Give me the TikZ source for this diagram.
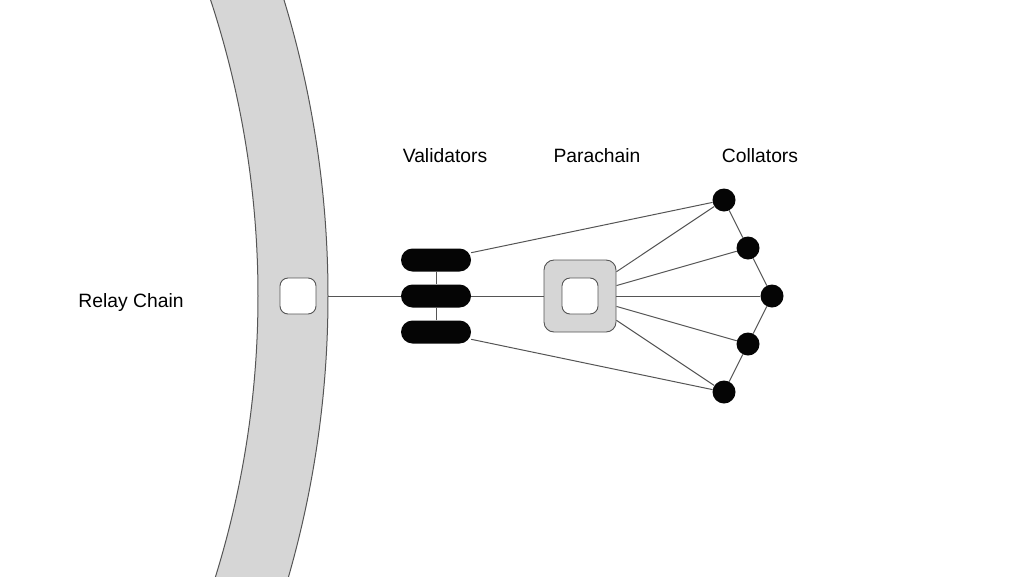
\documentclass[tikz,border=0pt]{standalone}
\usepackage{fontspec}
\setmainfont{Liberation Sans}
\usepackage{xcolor}
\usepackage{tikz}
\usetikzlibrary{positioning,calc}
\definecolor{bandgray}{HTML}{D6D6D6}
\definecolor{linegray}{HTML}{555555}
\definecolor{dotblack}{HTML}{050505}

\begin{document}
\begin{tikzpicture}[x=1pt,y=-1pt,
  link/.style={linegray, line width=1pt},
  smallbox/.style={rectangle, draw=linegray, line width=0.9pt, fill=white, rounded corners=8pt, minimum size=36pt, inner sep=0pt},
  parabox/.style={rectangle, draw=linegray, line width=0.9pt, fill=bandgray, rounded corners=10pt, minimum size=72pt, inner sep=0pt},
  validator/.style={rectangle, fill=dotblack, rounded corners=11.5pt, minimum width=70pt, minimum height=23pt, inner sep=0pt},
  collator/.style={circle, fill=dotblack, minimum size=23pt, inner sep=0pt},
  label/.style={anchor=base, font=\fontsize{19.3}{23}\selectfont}]
\useasboundingbox (0,0) rectangle (1024,576);
% Relay chain band
\begin{scope}
\clip (0,0) rectangle (1024,576);
\draw[fill=bandgray, draw=linegray, line width=1pt] ([shift={(-20:1018)}]-690,296) arc[start angle=-20, end angle=20, radius=1018] -- ([shift={(20:948)}]-690,296) arc[start angle=20, end angle=-20, radius=948] -- cycle;
\end{scope}
\node[smallbox] (relaybox) at (298,296) {};
\coordinate (chainedge) at (328,296);
% Validators
\node[validator] (val1) at (436,260) {};
\node[validator] (val2) at (436,296) {};
\node[validator] (val3) at (436,332) {};
% Parachain
\node[parabox] (para) at (580,296) {};
\node[smallbox] (parainner) at (para) {};
% Collators
\node[collator] (col1) at (724,200) {};
\node[collator] (col2) at (748,248) {};
\node[collator] (col3) at (772,296) {};
\node[collator] (col4) at (748,344) {};
\node[collator] (col5) at (724,392) {};
% Connectors
\draw[link] (chainedge) -- (val2);
\draw[link] (val1) -- (val2);
\draw[link] (val2) -- (val3);
\draw[link] (val2) -- (para);
\draw[link] (val1) -- (col1);
\draw[link] (val3) -- (col5);
\foreach \i in {1,...,5} \draw[link] (para) -- (col\i);
\foreach \i/\j in {1/2,2/3,3/4,4/5} \draw[link] (col\i) -- (col\j);
% Labels
\node[label] (relaylabel) at (131,307) {Relay Chain};
\node[label] (vallabel) at (445,162) {Validators};
\node[label] (paralabel) at (597,162) {Parachain};
\node[label] (collabel) at (760,162) {Collators};
\end{tikzpicture}
\end{document}
